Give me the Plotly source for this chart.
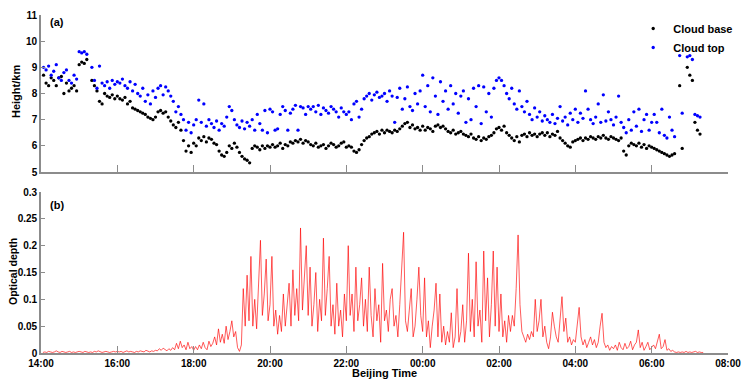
import pandas as pd
import plotly.graph_objects as go
from plotly.subplots import make_subplots

# ---------------- data ----------------
cloud_start = "2000-01-01 14:04"   # 4-minute sampling
cloud_step = "4min"

cloud_base = [
    # 14:04 - 15:00
    8.7, 8.4, 8.3, 8.6, 8.5, 8.3, 8.6, 8.65, 8.0, 8.4, 8.1, 8.2, 8.3, 8.1, 9.1,
    # 15:04 - 16:00
    9.2, 9.15, 9.3, None, 8.5, 8.3, 8.1, 7.7, 7.6, 8.0, 7.9, 7.85, 7.95, 7.8, 7.9,
    # 16:04 - 17:00
    7.8, 7.75, 7.85, 7.6, 7.7, 7.45, 7.4, 7.35, 7.3, 7.25, 7.2, 7.1, 7.05, 7.0, 7.1,
    # 17:04 - 18:00
    7.3, 7.35, 7.25, 7.3, 7.1, 6.95, 6.8, 6.7, 6.9, 6.6, 6.2, 5.8, 6.0, 5.75, 6.1,
    # 18:04 - 19:00
    6.0, 6.3, 6.2, 6.35, 6.15, 6.3, 6.25, 6.1, 6.05, 5.8, 5.65, 5.6, 5.75, 6.0, 5.9,
    # 19:04 - 20:00
    6.1, 5.95, 5.75, 5.6, 5.5, 5.45, 5.35, 5.9, 6.0, 5.95, 5.85, 6.0, 5.9, 6.0, 5.95,
    # 20:04 - 21:00
    6.05, 5.95, 6.0, 6.1, 5.9, 6.05, 6.0, 6.15, 6.1, 6.2, 6.15, 6.25, 6.1, 6.2, 6.15,
    # 21:04 - 22:00
    6.05, 6.0, 6.1, 5.95, 6.0, 6.05, 5.9, 6.0, 6.1, 6.05, 5.95, 6.0, 6.1, 6.15, 5.95,
    # 22:04 - 23:00
    6.0, 5.95, 5.8, 5.75, 5.85, 6.05, 6.2, 6.3, 6.35, 6.45, 6.5, 6.55, 6.45, 6.6, 6.5,
    # 23:04 - 00:00
    6.6, 6.55, 6.5, 6.6, 6.55, 6.65, 6.75, 6.85, 6.9, 6.7, 6.8, 6.65, 6.7, 6.6, 6.75,
    # 00:04 - 01:00
    6.6, 6.7, 6.65, 6.55, 6.75, 6.8, 6.7, 6.75, 6.65, 6.55, 6.5, 6.6, 6.45, 6.5, 6.55,
    # 01:04 - 02:00
    6.45, 6.4, 6.35, 6.45, 6.3, 6.25, 6.35, 6.2, 6.3, 6.25, 6.35, 6.4, 6.5, 6.65, 6.7,
    # 02:04 - 03:00
    6.6, 6.75, 6.5, 6.4, 6.3, 6.2, 6.35, 6.15, 6.4, 6.45, 6.35, 6.5, 6.4, 6.45, 6.35,
    # 03:04 - 04:00
    6.45, 6.5, 6.4, 6.5, 6.35, 6.45, 6.4, 6.55, 6.3, 6.2, 6.1, 6.0, 5.95, 6.15, 6.2,
    # 04:04 - 05:00
    6.25, 6.3, 6.2, 6.3, 6.25, 6.35, 6.3, 6.25, 6.35, 6.3, 6.4, 6.3, 6.25, 6.35, 6.3,
    # 05:04 - 06:00
    6.25, 6.2, 6.3, 5.8, 5.65, 6.0, 6.1, 6.05, 6.0, 6.1, 5.95, 6.05, 5.9, 6.0, 5.95,
    # 06:04 - 07:00
    5.9, 5.85, 5.8, 5.75, 5.7, 5.65, 5.6, 5.65, 5.7, None, 8.3, 5.9, None, 9.0, 8.7,
    # 07:04 - 07:16
    8.5, 6.9, 6.6, 6.45,
]

cloud_top = [
    # 14:04 - 15:00
    9.0, 8.9, 9.05, 8.7, 8.85, 9.1, 8.6, 8.5, 8.8, 8.9, 8.5, 8.4, 8.7, 8.55, 9.6,
    # 15:04 - 16:00
    9.55, 9.6, 9.5, None, 9.0, 8.5, 8.2, 9.05, 8.4, 8.3, 8.45, 8.2, 8.5, 8.35, 8.45,
    # 16:04 - 17:00
    8.4, 8.55, 8.3, 8.2, 8.45, 8.1, 8.35, 8.0, 7.9, 8.2, 7.7, 7.95, 7.6, 8.1, 7.85,
    # 17:04 - 18:00
    8.2, 8.3, 7.95, 8.25, 8.1, 7.9, 7.7, 7.3, 7.5, 7.2, 7.0, 6.6, 6.9, 6.5, 6.8,
    # 18:04 - 19:00
    7.0, 7.75, 6.9, 7.6, 6.75, 7.0, 6.85, 6.7, 6.95, 6.6, 6.85, 6.75, 7.1, 7.5, 7.35,
    # 19:04 - 20:00
    7.0, 6.8, 6.7, 6.95, 6.65, 6.9, 6.75, 7.0, 6.6, 7.2, 6.85, 6.6, 7.35, 6.5, 7.4,
    # 20:04 - 21:00
    7.3, 6.6, 6.65, 7.2, 7.5, 7.35, 6.6, 7.25, 7.4, 7.55, 6.6, 7.5, 7.45, 7.2, 7.5,
    # 21:04 - 22:00
    7.4, 7.5, 7.3, 7.55, 7.2, 7.45, 7.35, 7.25, 7.5, 7.4, 7.3, 7.1, 7.45, 7.3, 7.2,
    # 22:04 - 23:00
    7.3, 7.0, 7.6, 7.7, 7.1, 7.4, 7.8, 7.9, 8.0, 7.75, 7.95, 8.05, 7.85, 7.9, 8.0,
    # 23:04 - 00:00
    7.7, 8.1, 7.9, 6.9, 7.85, 8.2, 7.4, 7.8, 8.25, 7.5, 7.35, 8.0, 7.6, 8.1, 8.7,
    # 00:04 - 01:00
    7.5, 8.3, 7.3, 8.6, 7.9, 7.2, 8.45, 7.7, 8.1, 7.4, 8.3, 7.6, 8.0, 7.25, 7.9,
    # 01:04 - 02:00
    8.1, 6.9, 7.8, 7.0, 8.2, 7.5, 8.3, 6.85, 8.25, 7.3, 8.0, 7.1, 8.2, 8.5, 8.6,
    # 02:04 - 03:00
    8.5, 8.3, 8.0, 7.8, 8.2, 7.6, 7.4, 8.1, 7.5, 7.3, 7.7, 7.2, 7.0, 7.45, 7.1,
    # 03:04 - 04:00
    7.3, 6.95, 7.15, 7.0, 6.9, 7.2, 6.85, 7.05, 7.5, 6.95, 7.1, 6.8, 7.25, 7.0, 7.4,
    # 04:04 - 05:00
    6.9, 7.25, 7.05, 8.1, 7.4, 7.0, 6.85, 7.1, 7.6, 6.9, 7.95, 6.95, 7.3, 7.0, 6.8,
    # 05:04 - 06:00
    7.1, 7.9, 6.9, 6.7, 6.5, 7.0, 6.6, 7.3, 6.75, 7.4, 6.55, 7.0, 7.2, 6.6, 6.9,
    # 06:04 - 07:00
    7.2, 6.9, 6.5, 7.4, 6.4, 6.3, 7.1, 6.6, 6.35, None, 9.45, 7.25, None, 9.4, 9.45,
    # 07:04 - 07:16
    9.3, 7.2, 7.15, 7.1,
]

od_start = "2000-01-01 14:03"   # 3-minute sampling
od_step = "3min"

optical_depth = [
    # 14:03 - 15:00
    0.001, 0.002, 0.001, 0.003, 0.002, 0.001, 0.002, 0.004, 0.002, 0.001,
    0.003, 0.002, 0.001, 0.002, 0.003, 0.001, 0.002, 0.001, 0.002, 0.003,
    # 15:03 - 16:00
    0.002, 0.001, 0.003, 0.002, 0.001, 0.002, 0.001, 0.003, 0.002, 0.004,
    0.002, 0.001, 0.002, 0.003, 0.002, 0.001, 0.002, 0.003, 0.002, 0.003,
    # 16:03 - 17:00
    0.002, 0.003, 0.001, 0.002, 0.004, 0.002, 0.003, 0.002, 0.001, 0.003,
    0.002, 0.004, 0.003, 0.002, 0.005, 0.003, 0.002, 0.004, 0.003, 0.005,
    # 17:03 - 18:00
    0.004, 0.008, 0.005, 0.009, 0.006, 0.004, 0.008, 0.005, 0.010, 0.006,
    0.018, 0.008, 0.022, 0.010, 0.015, 0.006, 0.020, 0.008, 0.012, 0.005,
    # 18:03 - 19:00
    0.012, 0.006, 0.015, 0.008, 0.020, 0.010, 0.006, 0.022, 0.012, 0.018,
    0.030, 0.015, 0.045, 0.020, 0.035, 0.018, 0.050, 0.025, 0.040, 0.060,
    # 19:03 - 20:00
    0.030, 0.040, 0.010, 0.003, 0.015, 0.120, 0.050, 0.145, 0.060, 0.180,
    0.050, 0.100, 0.045, 0.130, 0.210, 0.070, 0.110, 0.175, 0.060, 0.090,
    # 20:03 - 21:00
    0.180, 0.050, 0.080, 0.035, 0.070, 0.040, 0.110, 0.050, 0.090, 0.130,
    0.050, 0.155, 0.070, 0.120, 0.060, 0.233, 0.080, 0.140, 0.200, 0.070,
    # 21:03 - 22:00
    0.160, 0.050, 0.090, 0.150, 0.040, 0.100, 0.060, 0.214, 0.070, 0.120,
    0.180, 0.050, 0.090, 0.035, 0.130, 0.050, 0.080, 0.030, 0.110, 0.060,
    # 22:03 - 23:00
    0.200, 0.070, 0.110, 0.040, 0.160, 0.060, 0.090, 0.140, 0.050, 0.100,
    0.040, 0.160, 0.070, 0.030, 0.120, 0.060, 0.090, 0.020, 0.167, 0.060,
    # 23:03 - 00:00
    0.080, 0.040, 0.100, 0.120, 0.050, 0.070, 0.030, 0.090, 0.150, 0.225,
    0.060, 0.040, 0.080, 0.120, 0.030, 0.050, 0.100, 0.160, 0.070, 0.040,
    # 00:03 - 01:00
    0.140, 0.030, 0.060, 0.010, 0.050, 0.080, 0.130, 0.030, 0.110, 0.020,
    0.050, 0.015, 0.040, 0.020, 0.075, 0.010, 0.030, 0.120, 0.020, 0.040,
    # 01:03 - 02:00
    0.090, 0.020, 0.060, 0.186, 0.040, 0.100, 0.030, 0.170, 0.050, 0.080,
    0.020, 0.190, 0.060, 0.140, 0.030, 0.090, 0.190, 0.050, 0.160, 0.040,
    # 02:03 - 03:00
    0.110, 0.030, 0.060, 0.020, 0.070, 0.040, 0.070, 0.050, 0.120, 0.220,
    0.090, 0.040, 0.030, 0.020, 0.035, 0.025, 0.040, 0.030, 0.100, 0.040,
    # 03:03 - 04:00
    0.060, 0.100, 0.030, 0.050, 0.020, 0.008, 0.030, 0.076, 0.050, 0.030,
    0.020, 0.060, 0.105, 0.040, 0.065, 0.020, 0.030, 0.015, 0.025, 0.020,
    # 04:03 - 05:00
    0.060, 0.085, 0.030, 0.015, 0.025, 0.010, 0.020, 0.030, 0.015, 0.025,
    0.010, 0.020, 0.050, 0.074, 0.020, 0.010, 0.015, 0.005, 0.012, 0.008,
    # 05:03 - 06:00
    0.015, 0.005, 0.020, 0.010, 0.006, 0.018, 0.008, 0.012, 0.022, 0.006,
    0.015, 0.020, 0.043, 0.010, 0.020, 0.005, 0.012, 0.020, 0.006, 0.010,
    # 06:03 - 07:00
    0.015, 0.008, 0.020, 0.035, 0.008, 0.012, 0.025, 0.005, 0.008, 0.003,
    0.005, 0.002, 0.001, 0.002, 0.001, 0.002, 0.001, 0.003, 0.001, 0.002,
    # 07:03 - 07:21
    0.001, 0.002, 0.003, 0.001, 0.002, 0.001, 0.001,
]

x_range = ["2000-01-01 14:00", "2000-01-02 08:00"]

# ---------------- figure ----------------
cloud_time = pd.date_range(cloud_start, periods=len(cloud_base), freq=cloud_step)
od_time = pd.date_range(od_start, periods=len(optical_depth), freq=od_step)

FONT = "Liberation Sans, Arial, sans-serif"
AXC = "#8c8c8c"

fig = make_subplots(rows=2, cols=1, shared_xaxes=False, vertical_spacing=0.0)

fig.add_trace(go.Scatter(x=cloud_time, y=cloud_base, mode="markers", name="Cloud base",
                         marker=dict(color="black", size=3.3)), row=1, col=1)
fig.add_trace(go.Scatter(x=cloud_time, y=cloud_top, mode="markers", name="Cloud top",
                         marker=dict(color="#0000ff", size=3.3)), row=1, col=1)
fig.add_trace(go.Scatter(x=od_time, y=optical_depth, mode="lines", showlegend=False,
                         line=dict(color="rgba(255,0,0,0.72)", width=0.9)), row=2, col=1)

# The page body has an 8px margin, so the figure is 8px smaller in each direction
# and the plot area is placed accordingly (page px -> figure px = -8).
TOP_PAGE = 15          # page y of the top of the upper panel (room for the "11" label)
H = 353.0 - TOP_PAGE   # plot-area height in px
axis_common = dict(showline=True, linecolor=AXC, linewidth=1.6, showgrid=False,
                   zeroline=False, ticks="inside", tickcolor=AXC, tickwidth=1.4,
                   automargin=False, ticklabeloverflow="allow",
                   tickfont=dict(family=FONT, size=10, color="black", weight="bold"))

fig.update_xaxes(type="date", range=x_range, dtick=2 * 3600 * 1000, tickformat="%H:%M",
                 ticklen=7, **axis_common)
fig.update_xaxes(showticklabels=False, row=1, col=1)
fig.update_yaxes(ticklen=4, **axis_common)

fig.update_layout(
    template="none",
    width=743, height=372,
    margin=dict(l=33, r=23, t=TOP_PAGE - 8, b=27, autoexpand=False),
    paper_bgcolor="white", plot_bgcolor="white",
    xaxis=dict(domain=[0, 1]),
    yaxis=dict(domain=[(353 - 172) / H, 1], range=[5, 11], dtick=1),
    xaxis2=dict(domain=[0, 1]),
    yaxis2=dict(domain=[0, 161 / H], range=[0, 0.3], dtick=0.05),
    legend=dict(x=0.862, y=(353 - 14) / H, xanchor="left", yanchor="top",
                bgcolor="rgba(0,0,0,0)",
                font=dict(family=FONT, size=11, color="black", weight="bold"),
                itemwidth=30, tracegroupgap=0),
    showlegend=True,
)

def py(page_y):
    return (353 - page_y) / H

def px(page_x):
    return (page_x - 41) / 687.0

ann_font = dict(family=FONT, size=11, color="black", weight="bold")
fig.add_annotation(text="(a)", xref="paper", yref="paper", x=px(57), y=py(22),
                   showarrow=False, xanchor="center", yanchor="middle", font=ann_font)
fig.add_annotation(text="(b)", xref="paper", yref="paper", x=px(57), y=py(205),
                   showarrow=False, xanchor="center", yanchor="middle", font=ann_font)
fig.add_annotation(text="Height/km", xref="paper", yref="paper", x=px(16),
                   y=py(92), textangle=-90, showarrow=False,
                   xanchor="center", yanchor="middle", font=ann_font)
fig.add_annotation(text="Optical depth", xref="paper", yref="paper", x=px(13),
                   y=py(272), textangle=-90, showarrow=False,
                   xanchor="center", yanchor="middle",
                   font=dict(family=FONT, size=10.5, color="black", weight="bold"))
fig.add_annotation(text="Beijing Time", xref="paper", yref="paper", x=0.5,
                   y=py(373), showarrow=False,
                   xanchor="center", yanchor="middle", font=ann_font)

fig.write_html("out.html")
